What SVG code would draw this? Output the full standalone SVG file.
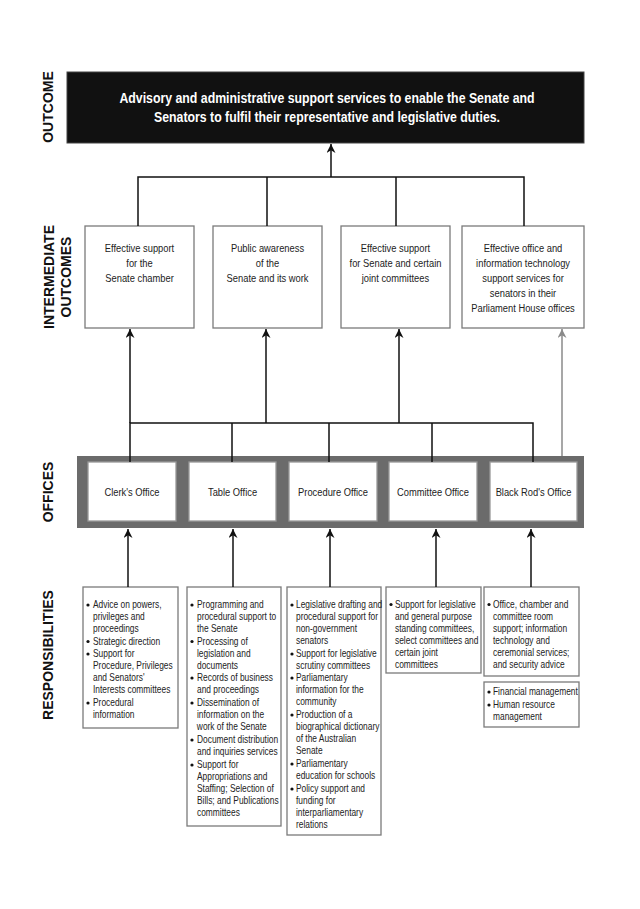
<svg xmlns="http://www.w3.org/2000/svg" width="640" height="909" viewBox="0 0 640 909">
<defs>
<marker id="ah" viewBox="0 0 10 10" refX="10" refY="5" markerWidth="9" markerHeight="9" markerUnits="userSpaceOnUse" orient="auto">
<path d="M0,0 L10,5 L0,10 L3,5 z" fill="#111"/>
</marker>
<marker id="ahg" viewBox="0 0 10 10" refX="10" refY="5" markerWidth="9" markerHeight="9" markerUnits="userSpaceOnUse" orient="auto">
<path d="M0,0 L10,5 L0,10 L3,5 z" fill="#8a8a8a"/>
</marker>
<style>
.lbl{font-family:"Liberation Sans",Arial,sans-serif;font-weight:bold;font-size:14px;fill:#111;text-anchor:middle}
.t{font-family:"Liberation Sans",Arial,sans-serif;font-weight:bold;font-size:14px;fill:#fff;text-anchor:middle;transform-box:fill-box;transform-origin:center;transform:scaleX(0.88)}
.n{font-family:"Liberation Sans",Arial,sans-serif;font-size:11px;fill:#222;text-anchor:middle;transform-box:fill-box;transform-origin:center;transform:scaleX(0.85)}
.r{font-family:"Liberation Sans",Arial,sans-serif;font-size:10px;fill:#222;transform-box:fill-box;transform-origin:left center;transform:scaleX(0.84)}
.box{fill:#fff;stroke:#7a7a7a;stroke-width:1.3}
.ob{fill:#fff;stroke:#999;stroke-width:1.3}
.ln{fill:none;stroke:#111;stroke-width:1.5}
.lg{fill:none;stroke:#8a8a8a;stroke-width:1.5}
.bul{fill:#111}
</style>
</defs>

<g id="labels">
<text class="lbl" transform="translate(53,107) rotate(-90)">OUTCOME</text>
<text class="lbl" transform="translate(54,277) rotate(-90)">INTERMEDIATE</text>
<text class="lbl" transform="translate(71,277) rotate(-90)">OUTCOMES</text>
<text class="lbl" transform="translate(53,492) rotate(-90)">OFFICES</text>
<text class="lbl" transform="translate(53,655) rotate(-90)">RESPONSIBILITIES</text>
</g>

<g id="outcome">
<rect x="67" y="72" width="517" height="71" fill="#111" stroke="#444" stroke-width="1"/>
<text class="t" x="327" y="103">Advisory and administrative support services to enable the Senate and</text>
<text class="t" x="327" y="122">Senators to fulfil their representative and legislative duties.</text>
</g>

<g id="io1">
<rect class="box" x="85" y="226" width="109" height="102"/>
<text class="n" x="139.5" y="252">Effective support</text>
<text class="n" x="139.5" y="267">for the</text>
<text class="n" x="139.5" y="282">Senate chamber</text>
</g>
<g id="io2">
<rect class="box" x="213" y="226" width="109" height="102"/>
<text class="n" x="267.5" y="252">Public awareness</text>
<text class="n" x="267.5" y="267">of the</text>
<text class="n" x="267.5" y="282">Senate and its work</text>
</g>
<g id="io3">
<rect class="box" x="341" y="226" width="109" height="102"/>
<text class="n" x="395.5" y="252">Effective support</text>
<text class="n" x="395.5" y="267">for Senate and certain</text>
<text class="n" x="395.5" y="282">joint committees</text>
</g>
<g id="io4">
<rect class="box" x="462" y="226" width="122" height="102"/>
<text class="n" x="523" y="252">Effective office and</text>
<text class="n" x="523" y="267">information technology</text>
<text class="n" x="523" y="282">support services for</text>
<text class="n" x="523" y="297">senators in their</text>
<text class="n" x="523" y="312">Parliament House offices</text>
</g>

<g id="offices-band">
<rect x="77" y="456" width="507" height="72" fill="#6b6b6b"/>
</g>
<g id="clerks-office">
<rect class="ob" x="88" y="462" width="88" height="59"/>
<text class="n" x="132" y="496">Clerk's Office</text>
</g>
<g id="table-office">
<rect class="ob" x="189" y="462" width="87" height="59"/>
<text class="n" x="232.5" y="496">Table Office</text>
</g>
<g id="procedure-office">
<rect class="ob" x="289" y="462" width="88" height="59"/>
<text class="n" x="333" y="496">Procedure Office</text>
</g>
<g id="committee-office">
<rect class="ob" x="389" y="462" width="88" height="59"/>
<text class="n" x="433" y="496">Committee Office</text>
</g>
<g id="black-rods-office">
<rect class="ob" x="490" y="462" width="87" height="59"/>
<text class="n" x="533.5" y="496">Black Rod's Office</text>
</g>

<g id="resp-clerk">
<rect class="box" x="83" y="587" width="95" height="141"/>
<circle class="bul" cx="88" cy="605" r="1.6"/>
<circle class="bul" cx="88" cy="641.5" r="1.6"/>
<circle class="bul" cx="88" cy="654" r="1.6"/>
<circle class="bul" cx="88" cy="703" r="1.6"/>
<text class="r" x="93" y="608.5">Advice on powers,</text>
<text class="r" x="93" y="620.5">privileges and</text>
<text class="r" x="93" y="632.5">proceedings</text>
<text class="r" x="93" y="645">Strategic direction</text>
<text class="r" x="93" y="657.5">Support for</text>
<text class="r" x="93" y="669.5">Procedure, Privileges</text>
<text class="r" x="93" y="681.5">and Senators'</text>
<text class="r" x="93" y="693.5">Interests committees</text>
<text class="r" x="93" y="706.5">Procedural</text>
<text class="r" x="93" y="718.5">information</text>
</g>

<g id="resp-table">
<rect class="box" x="187" y="587" width="94" height="239"/>
<circle class="bul" cx="192" cy="605" r="1.6"/>
<circle class="bul" cx="192" cy="641.5" r="1.6"/>
<circle class="bul" cx="192" cy="678" r="1.6"/>
<circle class="bul" cx="192" cy="703" r="1.6"/>
<circle class="bul" cx="192" cy="740" r="1.6"/>
<circle class="bul" cx="192" cy="765" r="1.6"/>
<text class="r" x="197" y="608.5">Programming and</text>
<text class="r" x="197" y="620.5">procedural support to</text>
<text class="r" x="197" y="632.5">the Senate</text>
<text class="r" x="197" y="645">Processing of</text>
<text class="r" x="197" y="657">legislation and</text>
<text class="r" x="197" y="669">documents</text>
<text class="r" x="197" y="681.5">Records of business</text>
<text class="r" x="197" y="693.5">and proceedings</text>
<text class="r" x="197" y="706.5">Dissemination of</text>
<text class="r" x="197" y="718.5">information on the</text>
<text class="r" x="197" y="730.5">work of the Senate</text>
<text class="r" x="197" y="743.5">Document distribution</text>
<text class="r" x="197" y="755.5">and inquiries services</text>
<text class="r" x="197" y="768.5">Support for</text>
<text class="r" x="197" y="780.5">Appropriations and</text>
<text class="r" x="197" y="792.5">Staffing; Selection of</text>
<text class="r" x="197" y="804.5">Bills; and Publications</text>
<text class="r" x="197" y="816.5">committees</text>
</g>

<g id="resp-procedure">
<rect class="box" x="287" y="587" width="94" height="248"/>
<circle class="bul" cx="292" cy="605" r="1.6"/>
<circle class="bul" cx="292" cy="654" r="1.6"/>
<circle class="bul" cx="292" cy="678" r="1.6"/>
<circle class="bul" cx="292" cy="715" r="1.6"/>
<circle class="bul" cx="292" cy="764" r="1.6"/>
<circle class="bul" cx="292" cy="789" r="1.6"/>
<text class="r" x="296" y="608.5">Legislative drafting and</text>
<text class="r" x="296" y="620.5">procedural support for</text>
<text class="r" x="296" y="632.5">non-government</text>
<text class="r" x="296" y="644.5">senators</text>
<text class="r" x="296" y="657.5">Support for legislative</text>
<text class="r" x="296" y="669.5">scrutiny committees</text>
<text class="r" x="296" y="681.5">Parliamentary</text>
<text class="r" x="296" y="693.5">information for the</text>
<text class="r" x="296" y="705.5">community</text>
<text class="r" x="296" y="718.5">Production of a</text>
<text class="r" x="296" y="730.5">biographical dictionary</text>
<text class="r" x="296" y="742.5">of the Australian</text>
<text class="r" x="296" y="754.5">Senate</text>
<text class="r" x="296" y="767.5">Parliamentary</text>
<text class="r" x="296" y="779.5">education for schools</text>
<text class="r" x="296" y="792.5">Policy support and</text>
<text class="r" x="296" y="804.5">funding for</text>
<text class="r" x="296" y="816.5">interparliamentary</text>
<text class="r" x="296" y="828.5">relations</text>
</g>

<g id="resp-committee">
<rect class="box" x="386" y="587" width="95" height="86"/>
<circle class="bul" cx="391" cy="604.5" r="1.6"/>
<text class="r" x="395" y="608">Support for legislative</text>
<text class="r" x="395" y="620">and general purpose</text>
<text class="r" x="395" y="632">standing committees,</text>
<text class="r" x="395" y="644">select committees and</text>
<text class="r" x="395" y="656">certain joint</text>
<text class="r" x="395" y="668">committees</text>
</g>

<g id="resp-blackrod">
<rect class="box" x="484" y="587" width="95" height="89"/>
<circle class="bul" cx="489" cy="604.5" r="1.6"/>
<text class="r" x="493" y="608">Office, chamber and</text>
<text class="r" x="493" y="620">committee room</text>
<text class="r" x="493" y="632">support; information</text>
<text class="r" x="493" y="644">technology and</text>
<text class="r" x="493" y="656">ceremonial services;</text>
<text class="r" x="493" y="668">and security advice</text>
</g>

<g id="resp-blackrod-2">
<rect class="box" x="484" y="682" width="95" height="45"/>
<circle class="bul" cx="489" cy="692" r="1.6"/>
<circle class="bul" cx="489" cy="705" r="1.6"/>
<text class="r" x="493" y="695.5">Financial management</text>
<text class="r" x="493" y="708.5">Human resource</text>
<text class="r" x="493" y="720.5">management</text>
</g>

<g id="connectors">
<path class="ln" d="M138,226 V177 H524 V226 M267,226 V177 M396,226 V177"/>
<line class="ln" x1="331" y1="177" x2="331" y2="144" marker-end="url(#ah)"/>
<path class="ln" d="M130,462 V423 H533 V462 M232,462 V423 M329,462 V423 M432,462 V423"/>
<line class="ln" x1="130" y1="423" x2="130" y2="329" marker-end="url(#ah)"/>
<line class="ln" x1="266" y1="423" x2="266" y2="329" marker-end="url(#ah)"/>
<line class="ln" x1="399" y1="423" x2="399" y2="329" marker-end="url(#ah)"/>
<line class="lg" x1="562" y1="456" x2="562" y2="329" marker-end="url(#ahg)"/>
<line class="ln" x1="128" y1="587" x2="128" y2="529" marker-end="url(#ah)"/>
<line class="ln" x1="233" y1="587" x2="233" y2="529" marker-end="url(#ah)"/>
<line class="ln" x1="330" y1="587" x2="330" y2="529" marker-end="url(#ah)"/>
<line class="ln" x1="436" y1="587" x2="436" y2="529" marker-end="url(#ah)"/>
<line class="ln" x1="531" y1="587" x2="531" y2="529" marker-end="url(#ah)"/>
</g>
</svg>
